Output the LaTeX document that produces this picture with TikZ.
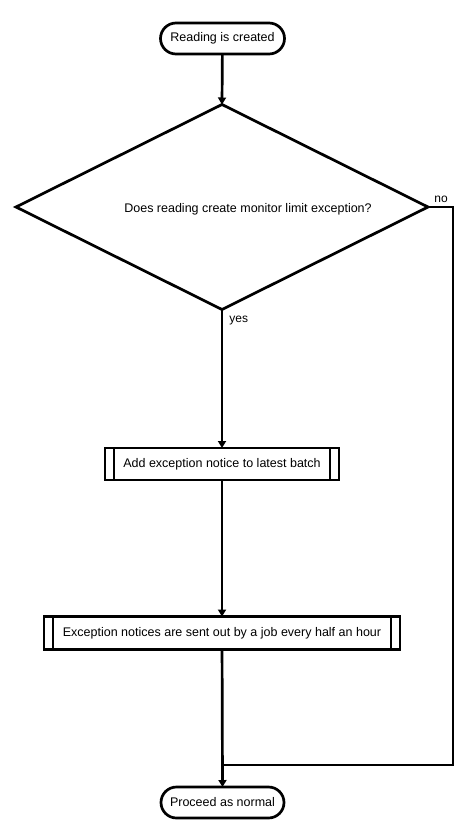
\documentclass[tikz,border=0pt]{standalone}
\usepackage{fontspec}
\setmainfont{Liberation Sans}
\usetikzlibrary{shapes.geometric,shapes.misc,arrows.meta}
\begin{document}
\begin{tikzpicture}[x=1pt,y=-1pt,
  every node/.style={font=\fontsize{12.5}{15}\selectfont, outer sep=0pt},
  conn/.style={line width=2.7pt},
  arr/.style={conn,-{Triangle[width=8pt,length=7pt]}},
  term/.style={draw, line width=2.7pt, rounded rectangle, minimum height=31pt, inner sep=0pt},
  decision/.style={draw, line width=2.7pt, diamond, inner sep=0pt},
  proc/.style={draw, line width=2.7pt, rectangle, inner sep=0pt,
    path picture={
      \draw[line width=2.7pt] ([xshift=9pt]path picture bounding box.north west) -- ([xshift=9pt]path picture bounding box.south west);
      \draw[line width=2.7pt] ([xshift=-9pt]path picture bounding box.north east) -- ([xshift=-9pt]path picture bounding box.south east);
    }},
  lbl/.style={font=\fontsize{12}{14}\selectfont}
]
\useasboundingbox (0,0) rectangle (474,827);
\fill[white] (0,0) rectangle (474,827);

\node[term, minimum width=124pt] (t1) at (222.5,38.5) {Reading is created};
\node[decision, minimum width=412pt, minimum height=205pt] (d) at (222,207) {};
\node (dtext) at (248,209) {Does reading create monitor limit exception?};
\node[proc, minimum width=234pt, minimum height=32pt] (b1) at (222,464) {Add exception notice to latest batch};
\node[proc, minimum width=356pt, minimum height=33pt] (b2) at (222,633) {Exception notices are sent out by a job every half an hour};
\node[term, minimum width=123pt] (t2) at (222.5,802.5) {Proceed as normal};

\coordinate (nocorner) at (453,207);
\coordinate (join) at (222,765);

\draw[arr] (t1) -- (d.north);
\draw[arr] (d.south) -- (b1.north);
\draw[arr] (b1) -- (b2.north);
\draw[arr] (b2) -- (t2.north);
\draw[conn] (d.east) -- (nocorner) |- (join);

\node[lbl, anchor=west] (yes) at (226,321) {yes};
\node[lbl] (no) at (441,199) {no};
\end{tikzpicture}
\end{document}
